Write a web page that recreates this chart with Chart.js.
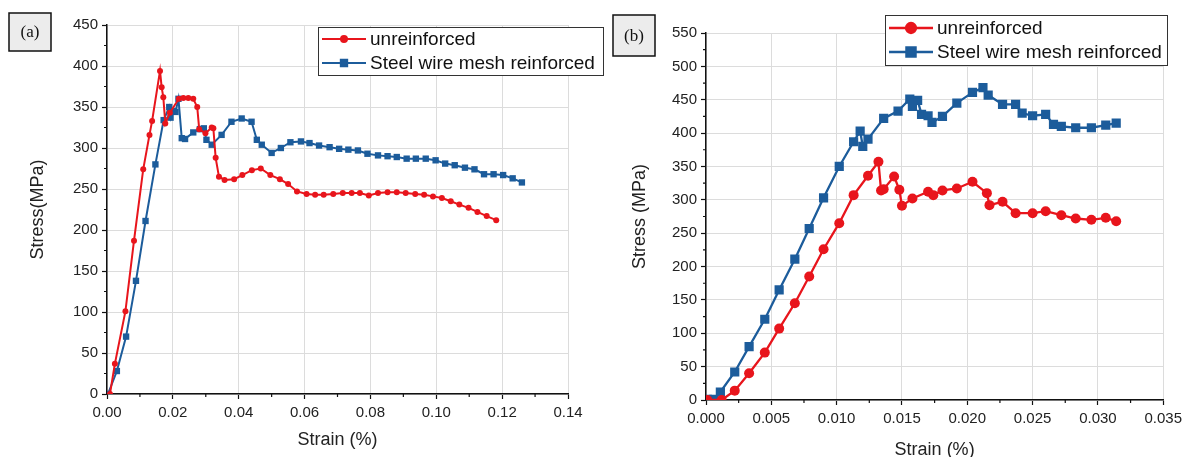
<!DOCTYPE html>
<html>
<head>
<meta charset="utf-8">
<script src="https://cdn.jsdelivr.net/npm/chart.js@4.4.0/dist/chart.umd.min.js"></script>
<style>
  html, body { margin: 0; padding: 0; background: #fff; }
  #wrap { position: relative; width: 1187px; height: 457px; }
  canvas { position: absolute; left: 0; top: 0; }
</style>
</head>
<body>
<div id="wrap">
  <canvas id="chartA" width="1187" height="457"></canvas>
  <canvas id="chartB" width="1187" height="457"></canvas>
</div>
<script>
// panel (a) - strain (%) / stress (MPa)
const strainA_plain = [0.0009, 0.0024, 0.0056, 0.0082, 0.0110, 0.0129, 0.0137, 0.0161, 0.0166, 0.0171, 0.0177,
  0.0191, 0.0218, 0.0232, 0.0247, 0.0262, 0.0274, 0.0280, 0.0299, 0.0318, 0.0323, 0.0330, 0.0340, 0.0357,
  0.0386, 0.0411, 0.0440, 0.0467, 0.0496, 0.0525, 0.0550, 0.0577, 0.0606, 0.0632, 0.0658, 0.0687, 0.0716,
  0.0743, 0.0768, 0.0795, 0.0823, 0.0852, 0.0880, 0.0907, 0.0936, 0.0963, 0.0990, 0.1017, 0.1044, 0.1070,
  0.1098, 0.1125, 0.1153, 0.1182];
const stressA_plain = [0, 37, 101, 187, 274, 316, 333, 394, 374, 362, 330,
  343, 360, 361, 361, 360, 350, 323, 318, 325, 324, 288, 265, 261,
  262, 267, 273, 275, 267, 262, 256, 247, 244, 243, 243, 244, 245,
  245, 245, 242, 245, 246, 246, 245, 244, 243, 241, 239, 235, 231,
  227, 222, 217, 212];

const strainA_mesh = [0.0003, 0.0030, 0.0058, 0.0088, 0.0117, 0.0147, 0.0172, 0.0189, 0.0193, 0.0200, 0.0208,
  0.0217, 0.0227, 0.0237, 0.0262, 0.0282, 0.0294, 0.0302, 0.0318, 0.0348, 0.0378, 0.0409, 0.0439, 0.0455,
  0.0470, 0.0500, 0.0528, 0.0557, 0.0589, 0.0615, 0.0644, 0.0676, 0.0705, 0.0733, 0.0762, 0.0791, 0.0823,
  0.0852, 0.0880, 0.0910, 0.0938, 0.0968, 0.0998, 0.1027, 0.1056, 0.1087, 0.1116, 0.1145, 0.1174, 0.1203,
  0.1232, 0.1260];
const stressA_mesh = [0, 28, 70, 138, 211, 280, 334, 350, 337, 345, 344,
  360, 312, 311, 319, 323, 324, 310, 304, 316, 332, 336, 332, 310,
  304, 294, 300, 307, 308, 306, 303, 301, 299, 298, 297, 293, 291,
  290, 289, 287, 287, 287, 285, 281, 279, 276, 274, 268, 268, 267,
  263, 258];

// panel (b)
const strainB_plain = [0.0001, 0.0012, 0.0022, 0.0033, 0.0045, 0.0056, 0.0068, 0.0079, 0.0090, 0.0102, 0.0113,
  0.0124, 0.0132, 0.0134, 0.0136, 0.0144, 0.0148, 0.0150, 0.0158, 0.0170, 0.0174, 0.0181, 0.0192, 0.0204,
  0.0215, 0.0217, 0.0227, 0.0237, 0.0250, 0.0260, 0.0272, 0.0283, 0.0295, 0.0306, 0.0314];
const stressB_plain = [0, 0, 14, 40, 71, 107, 145, 185, 226, 265, 307,
  336, 357, 314, 316, 335, 315, 291, 302, 312, 307, 314, 317, 327,
  310, 292, 297, 280, 280, 283, 277, 272, 270, 273, 268];

const strainB_mesh = [0.0001, 0.0006, 0.0011, 0.0022, 0.0033, 0.0045, 0.0056, 0.0068, 0.0079, 0.0090, 0.0102,
  0.0113, 0.0118, 0.0120, 0.0124, 0.0136, 0.0147, 0.0156, 0.0158, 0.0162, 0.0165, 0.0170, 0.0173, 0.0181,
  0.0192, 0.0204, 0.0212, 0.0216, 0.0227, 0.0237, 0.0242, 0.0250, 0.0260, 0.0266, 0.0272, 0.0283, 0.0295,
  0.0306, 0.0314];
const stressB_mesh = [1, 1, 12, 42, 80, 121, 165, 211, 257, 303, 350,
  387, 403, 380, 391, 422, 433, 451, 440, 449, 428, 426, 416, 425,
  445, 461, 468, 457, 443, 443, 430, 426, 428, 413, 410, 408, 408,
  412, 415];

const seriesNames = ['unreinforced', 'Steel wire mesh reinforced'];
const xTicksA = { min: 0, max: 0.14, step: 0.02, digits: 2 };
const yTicksA = { min: 0, max: 450, step: 50 };
const xTicksB = { min: 0, max: 0.035, step: 0.005, digits: 3 };
const yTicksB = { min: 0, max: 550, step: 50 };

const RED = '#e8151c';
const BLUE = '#1c5c9b';
const FONT = "'Liberation Sans', Arial, sans-serif";
Chart.defaults.font.family = FONT;

const pts = (xs, ys) => xs.map((x, i) => ({ x: x, y: ys[i] }));

// small ticks between the labelled ones
const minorTicks = {
  id: 'minorTicks',
  afterDraw(chart) {
    const ctx = chart.ctx;
    const xs = chart.scales.x, ys = chart.scales.y;
    ctx.save();
    ctx.strokeStyle = '#111';
    ctx.lineWidth = 1.2;
    ctx.beginPath();
    for (let i = 0; i < xs.ticks.length - 1; i++) {
      const px = xs.getPixelForValue((xs.ticks[i].value + xs.ticks[i + 1].value) / 2);
      ctx.moveTo(px, xs.top);
      ctx.lineTo(px, xs.top + 3);
    }
    for (let i = 0; i < ys.ticks.length - 1; i++) {
      const py = ys.getPixelForValue((ys.ticks[i].value + ys.ticks[i + 1].value) / 2);
      ctx.moveTo(ys.right, py);
      ctx.lineTo(ys.right - 3, py);
    }
    ctx.stroke();
    ctx.restore();
  }
};

// boxed legend like the Origin one
const boxLegend = {
  id: 'boxLegend',
  afterDraw(chart, args, o) {
    const ctx = chart.ctx;
    ctx.save();
    ctx.fillStyle = '#fff';
    ctx.fillRect(o.x, o.y, o.w, o.h);
    ctx.strokeStyle = '#333';
    ctx.lineWidth = 1;
    ctx.strokeRect(o.x + 0.5, o.y + 0.5, o.w, o.h);
    chart.data.datasets.forEach((ds, i) => {
      const cy = o.y + o.row0 + i * o.rowGap;
      ctx.strokeStyle = ds.borderColor;
      ctx.fillStyle = ds.borderColor;
      ctx.lineWidth = ds.borderWidth;
      ctx.beginPath();
      ctx.moveTo(o.x + 4, cy);
      ctx.lineTo(o.x + 4 + o.lineLen, cy);
      ctx.stroke();
      Chart.helpers.drawPoint(ctx, { pointStyle: ds.pointStyle, radius: ds.pointRadius, rotation: 0, borderWidth: 1 },
        o.x + 4 + o.lineLen / 2, cy);
      ctx.fillStyle = '#111';
      ctx.font = o.fontSize + 'px ' + FONT;
      ctx.textBaseline = 'middle';
      ctx.fillText(ds.label, o.x + 8 + o.lineLen, cy + 1);
    });
    ctx.restore();
  }
};

// "(a)" / "(b)" tag
const panelTag = {
  id: 'panelTag',
  afterDraw(chart, args, o) {
    const ctx = chart.ctx;
    ctx.save();
    ctx.fillStyle = '#ececec';
    ctx.fillRect(o.x, o.y, o.w, o.h);
    ctx.strokeStyle = '#111';
    ctx.lineWidth = 1.5;
    ctx.strokeRect(o.x, o.y, o.w, o.h);
    ctx.fillStyle = '#111';
    ctx.font = "17px 'Liberation Serif', 'Times New Roman', serif";
    ctx.textAlign = 'center';
    ctx.textBaseline = 'middle';
    ctx.fillText(o.text, o.x + o.w / 2, o.y + o.h / 2 + 1);
    ctx.restore();
  }
};

function makeChart(id, sets, xt, yt, cfg) {
  const datasets = sets.map((s, i) => ({
    label: seriesNames[i],
    data: s,
    borderColor: i === 0 ? RED : BLUE,
    backgroundColor: i === 0 ? RED : BLUE,
    borderWidth: cfg.lw,
    pointStyle: i === 0 ? 'circle' : 'rect',
    pointRadius: i === 0 ? cfg.rCircle : cfg.rRect,
    pointBorderWidth: 0,
    tension: 0,
    fill: false
  }));
  return new Chart(document.getElementById(id), {
    type: 'line',
    data: { datasets: datasets },
    options: {
      responsive: false,
      animation: false,
      devicePixelRatio: 1,
      layout: { padding: cfg.pad },
      plugins: {
        legend: { display: false },
        tooltip: { enabled: false },
        boxLegend: cfg.legend,
        panelTag: cfg.tag
      },
      scales: {
        x: {
          type: 'linear',
          min: xt.min, max: xt.max,
          afterFit: s => { s.height = cfg.xH; },
          grid: { color: '#dcdcdc', lineWidth: 1, tickColor: '#111', tickLength: 5, tickWidth: 1.2 },
          border: { color: '#111', width: 1.5 },
          ticks: { stepSize: xt.step, color: '#222', padding: 5, font: { size: 15 }, maxRotation: 0,
            callback: v => v.toFixed(xt.digits) },
          title: { display: true, text: 'Strain (%)', color: '#222', font: { size: 18 },
            padding: { top: 0, bottom: cfg.xTitlePad } }
        },
        y: {
          type: 'linear',
          min: yt.min, max: yt.max,
          afterFit: s => { s.width = cfg.yW; },
          grid: { color: '#dcdcdc', lineWidth: 1, tickColor: '#111', tickLength: 5, tickWidth: 1.2 },
          border: { color: '#111', width: 1.5 },
          ticks: { stepSize: yt.step, color: '#222', padding: 4, font: { size: 15 } },
          title: { display: true, text: cfg.yTitle, color: '#222', font: { size: 18 },
            padding: { top: cfg.yTitlePad, bottom: 0 } }
        }
      }
    },
    plugins: [minorTicks, boxLegend, panelTag]
  });
}

makeChart('chartA',
  [pts(strainA_plain, stressA_plain), pts(strainA_mesh, stressA_mesh)],
  xTicksA, yTicksA, {
    pad: { left: 20, top: 25, right: 619, bottom: 0 },
    yW: 87, xH: 63, xTitlePad: 6, yTitlePad: 7, yTitle: 'Stress(MPa)',
    lw: 2, rCircle: 3, rRect: 4.5,
    legend: { x: 318, y: 27, w: 285, h: 48, row0: 12, rowGap: 24, lineLen: 44, fontSize: 19 },
    tag: { x: 9, y: 13, w: 42, h: 38, text: '(a)' }
  });

makeChart('chartB',
  [pts(strainB_plain, stressB_plain), pts(strainB_mesh, stressB_mesh)],
  xTicksB, yTicksB, {
    pad: { left: 620, top: 33, right: 22, bottom: 0 },
    yW: 86, xH: 57, xTitlePad: -4, yTitlePad: 9, yTitle: 'Stress (MPa)',
    lw: 2.3, rCircle: 5, rRect: 6.5,
    legend: { x: 885, y: 15, w: 282, h: 50, row0: 13, rowGap: 24, lineLen: 44, fontSize: 19 },
    tag: { x: 613, y: 15, w: 42, h: 41, text: '(b)' }
  });
</script>
</body>
</html>
